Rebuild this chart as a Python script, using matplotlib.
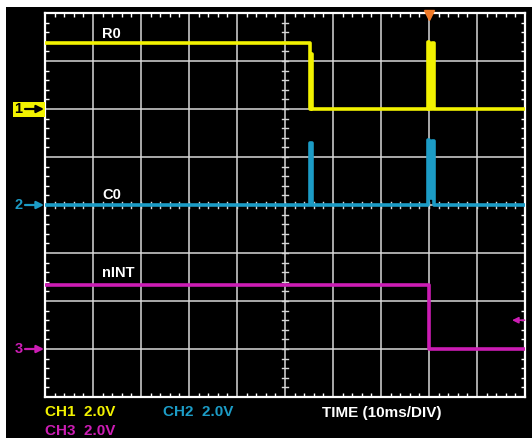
import numpy as np
import matplotlib
matplotlib.use('Agg')
import matplotlib.pyplot as plt
from matplotlib.patches import Rectangle, FancyArrowPatch

plt.rcParams['font.family'] = ['Liberation Sans', 'DejaVu Sans']

W, H = 532, 438

# scope settings
volts_per_div = 2.0
ms_per_div = 10.0
ch_offsets = {'CH1': 2.0, 'CH2': 0.0, 'CH3': -3.0}   # ground marker, in divisions
trigger_ms = 80.1

# CH1 (R0) - time in ms, level in V
r0_t = [0, 55.2, 55.2, 55.4, 55.4, 55.65, 55.65, 79.7, 79.7, 80.0, 80.0,
        80.6, 80.6, 80.95, 80.95, 100]
r0_v = [2.75, 2.75, 0, 0, 2.3, 2.3, 0, 0, 2.8, 2.8, 0,
        0, 2.75, 2.75, 0, 0]

# CH2 (C0)
c0_t = [0, 55.3, 55.3, 55.65, 55.65, 79.75, 79.75, 80.05, 80.05,
        80.55, 80.55, 80.95, 80.95, 100]
c0_v = [0, 0, 2.6, 2.6, 0, 0, 2.7, 2.7, 0.3,
        0.3, 2.65, 2.65, 0, 0]

# CH3 (nINT)
nint_t = [0, 80.0, 80.0, 100]
nint_v = [2.67, 2.67, 0, 0]

trace_names = ['R0', 'C0', 'nINT']
trig_level_div = -2.4

c_yellow = '#f2f200'
c_blue = '#1c9cc6'
c_mag = '#cc1db4'


def fx(x):
    return x / W


def fy(y):
    return 1 - y / H


fig = plt.figure(figsize=(W / 100, H / 100), dpi=100)
fig.patch.set_facecolor('white')
fig.patches.append(Rectangle((fx(6), 0), fx(W - 6), fy(7), transform=fig.transFigure,
                             facecolor='black', edgecolor='none', zorder=-5))

ax = fig.add_axes([fx(45), fy(397), fx(480), 384 / H])
ax.set_zorder(1)
ax.set_facecolor('black')
ax.set_xlim(0, 100)
ax.set_ylim(-4, 4)
ax.set_xticks(np.arange(0, 101, ms_per_div))
ax.set_yticks(np.arange(-4, 5, 1))
ax.set_xticks(np.arange(0, 101, 2), minor=True)
ax.set_yticks(np.arange(-4, 4.01, 0.2), minor=True)
ax.tick_params(which='major', length=0, labelbottom=False, labelleft=False)
ax.tick_params(which='minor', direction='in', length=3, width=1.0, color='white',
               top=True, right=True, bottom=True, left=True)
ax.grid(True, which='major', color='#d8d8d8', lw=1.1)
for s in ax.spines.values():
    s.set_color('white')
    s.set_linewidth(1.6)

# ticks on the centre cross
for t in np.arange(0, 100, 2):
    ax.plot([t, t], [-0.07, 0.07], color='#d8d8d8', lw=1.0, zorder=2)
for y in np.arange(-4, 4, 0.2):
    ax.plot([50 - 0.65, 50 + 0.65], [y, y], color='#d8d8d8', lw=1.0, zorder=2)


def to_div(v, ch):
    return ch_offsets[ch] + np.array(v) / volts_per_div


# traces
ax.plot(r0_t, to_div(r0_v, 'CH1'), color=c_yellow, lw=2.6, zorder=4)
ax.plot(c0_t, to_div(c0_v, 'CH2'), color=c_blue, lw=2.6, zorder=4)
ax.plot(nint_t, to_div(nint_v, 'CH3'), color=c_mag, lw=2.6, zorder=4)

# trigger position marker
ax.plot([trigger_ms], [3.955], marker='v', ms=6.5, color='#f07a28', mec='#f07a28',
        clip_on=False, zorder=6)
# trigger level marker
ax.annotate('', xy=(97.3, trig_level_div), xytext=(99.9, trig_level_div),
            arrowprops=dict(arrowstyle='-|>', color=c_mag, lw=1.2, mutation_scale=9,
                            shrinkA=0, shrinkB=0),
            zorder=6)

# trace labels
lab_kw = dict(color='white', fontsize=10.5, fontweight='bold', va='baseline')
fig.text(fx(102), fy(37.5), trace_names[0], **lab_kw)
fig.text(fx(102), fy(199.5), trace_names[1], **lab_kw)
fig.text(fx(102), fy(277), trace_names[2], **lab_kw)

# ground markers on the left
fig.patches.append(Rectangle((fx(12.5), fy(117)), fx(32.5), 15.5 / H, transform=fig.transFigure,
                             facecolor=c_yellow, edgecolor='none', zorder=3))
marks = [('1', 109, 'black'), ('2', 205, c_blue), ('3', 349, c_mag)]
for lbl, yy, col in marks:
    fig.text(fx(14.5), fy(yy), lbl, color=col, fontsize=10.5, fontweight='bold',
             va='center', zorder=5)
    fig.add_artist(FancyArrowPatch((fx(25), fy(yy)), (fx(44), fy(yy)),
                                   transform=fig.transFigure, arrowstyle='-|>',
                                   color=col, lw=1.6, mutation_scale=11,
                                   shrinkA=0, shrinkB=0, zorder=5))

# bottom readout
bot_kw = dict(fontsize=11, fontweight='bold', va='baseline')
fig.text(fx(45), fy(416), 'CH1  2.0V', color=c_yellow, **bot_kw)
fig.text(fx(163), fy(416), 'CH2  2.0V', color=c_blue, **bot_kw)
fig.text(fx(45), fy(435), 'CH3  2.0V', color=c_mag, **bot_kw)
fig.text(fx(322), fy(416.5), 'TIME (10ms/DIV)', color='white', **bot_kw)

fig.savefig('out.png', dpi=100, facecolor='white')
